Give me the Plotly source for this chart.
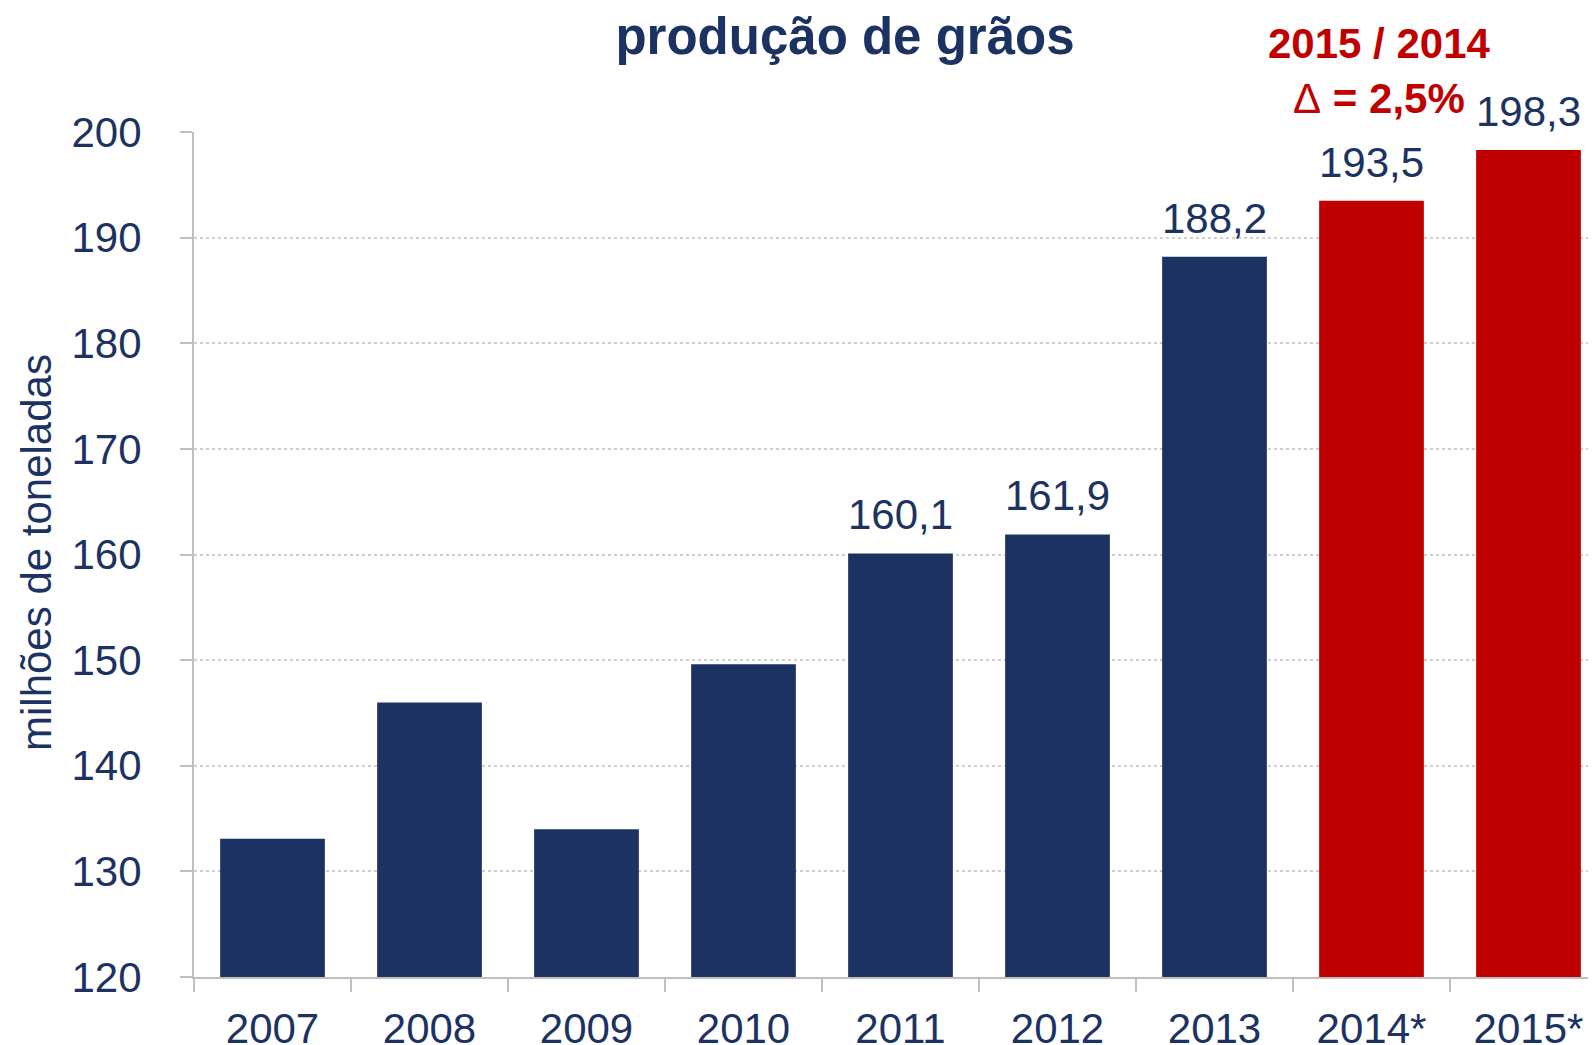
import plotly.graph_objects as go

# produção de grãos (milhões de toneladas)
anos = ["2007", "2008", "2009", "2010", "2011", "2012", "2013", "2014*", "2015*"]
producao = [133.1, 146.0, 134.0, 149.6, 160.1, 161.9, 188.2, 193.5, 198.3]
mostrar_rotulo = [False, False, False, False, True, True, True, True, True]
estimativa = [False, False, False, False, False, False, False, True, True]
y_ticks = [120, 130, 140, 150, 160, 170, 180, 190, 200]

AZUL = "#1b3263"
VERMELHO = "#c00000"
CINZA = "#bfbfbf"
FONTE = "Liberation Sans, Arial, sans-serif"

# a página tem 8px de margem no body
W, H = 1596, 1045
MARGEM = dict(l=186, r=8, t=124, b=76)
plot_w = W - MARGEM["l"] - MARGEM["r"]
plot_h = H - MARGEM["t"] - MARGEM["b"]

cores = [VERMELHO if e else AZUL for e in estimativa]

fig = go.Figure()
fig.add_trace(
    go.Bar(
        x=anos,
        y=producao,
        marker=dict(color=cores, line=dict(width=0)),
        showlegend=False,
        cliponaxis=False,
    )
)

# rótulos de valor acima das barras (x pelo índice da categoria)
for i, (valor, mostra) in enumerate(zip(producao, mostrar_rotulo)):
    if not mostra:
        continue
    fig.add_annotation(
        x=i,
        y=valor,
        xref="x",
        yref="y",
        text=f"{valor:.1f}".replace(".", ","),
        showarrow=False,
        yanchor="bottom",
        yshift=13,
        font=dict(family=FONTE, size=42, color=AZUL),
    )

# destaque 2015 / 2014
fig.add_annotation(
    x=(1371 - MARGEM["l"]) / plot_w,
    y=(H - MARGEM["b"] - 63) / plot_h,
    xref="paper",
    yref="paper",
    text="<b>2015 / 2014</b><br>Δ<b> = 2,5%</b>",
    showarrow=False,
    xanchor="center",
    yanchor="middle",
    font=dict(family=FONTE, size=42, color=VERMELHO),
)

# título do eixo y
fig.add_annotation(
    x=(28 - MARGEM["l"]) / plot_w,
    y=(H - MARGEM["b"] - 545) / plot_h,
    xref="paper",
    yref="paper",
    text="milhões de toneladas",
    textangle=-90,
    showarrow=False,
    xanchor="center",
    yanchor="middle",
    font=dict(family=FONTE, size=42, color=AZUL),
)

largura_cat = 157.0
fig.update_layout(
    width=W,
    height=H,
    margin=MARGEM,
    paper_bgcolor="white",
    plot_bgcolor="white",
    bargap=0.333,
    title=dict(
        text="<b>produção de grãos</b>",
        x=837 / W,
        xanchor="center",
        y=1 - 28 / H,
        yanchor="middle",
        font=dict(family=FONTE, size=51, color=AZUL),
    ),
    xaxis=dict(
        type="category",
        range=[-0.5, -0.5 + plot_w / largura_cat],
        automargin=False,
        showline=True,
        linecolor=CINZA,
        linewidth=2,
        ticks="outside",
        tickson="boundaries",
        ticklen=13,
        tickwidth=2,
        tickcolor=CINZA,
        showgrid=False,
        tickfont=dict(family=FONTE, size=42, color=AZUL),
        ticklabelstandoff=14,
    ),
    yaxis=dict(
        range=[120, 200],
        tickvals=y_ticks,
        automargin=False,
        showline=True,
        linecolor=CINZA,
        linewidth=2,
        ticks="outside",
        ticklen=12,
        tickwidth=2,
        tickcolor=CINZA,
        showgrid=True,
        gridcolor="#cfcfcf",
        gridwidth=1.5,
        griddash="dot",
        zeroline=False,
        tickfont=dict(family=FONTE, size=42, color=AZUL),
        ticklabelstandoff=30,
    ),
)

fig.write_html("out.html")
